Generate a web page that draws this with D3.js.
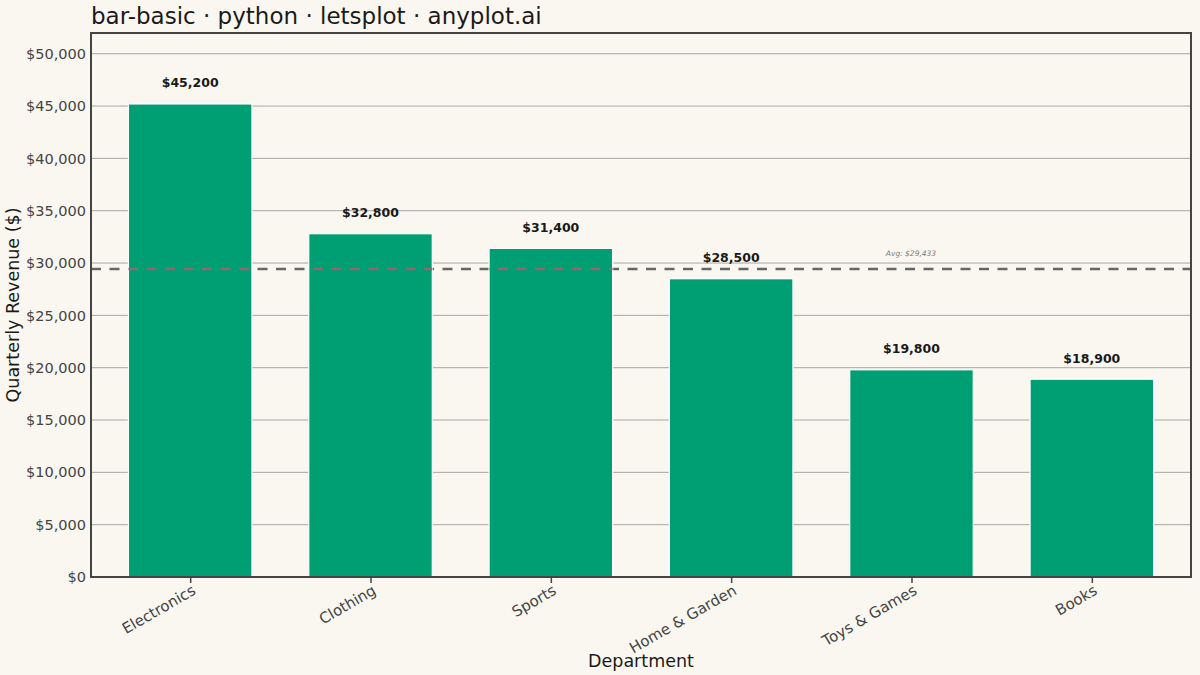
<!DOCTYPE html>
<html>
<head>
<meta charset="utf-8">
<script src="https://cdn.jsdelivr.net/npm/d3@7"></script>
<style>
  body { margin: 0; background: #FAF7F1; }
  svg { font-family: "DejaVu Sans", sans-serif; display: block; }
</style>
</head>
<body>
<svg id="chart" width="1200" height="675"></svg>
<script>
const WIDTH = 1200
const HEIGHT = 675

const departments = ['Electronics', 'Clothing', 'Sports', 'Home & Garden', 'Toys & Games', 'Books']
const revenue = [45200, 32800, 31400, 28500, 19800, 18900]
const yTicks = [0, 5000, 10000, 15000, 20000, 25000, 30000, 35000, 40000, 45000, 50000]

const padding = { left: 91, right: 9, top: 33, bottom: 98 }
const average = d3.mean(revenue)
const fmt = d3.format('$,.0f')

const svg = d3.select('#chart')

svg.append('rect')
    .attr('width', WIDTH)
    .attr('height', HEIGHT)
    .attr('fill', '#FAF7F1')

const xAxis = d3.scalePoint()
    .domain(departments)
    .range([padding.left, WIDTH - padding.right])
    .padding(0.55)

const step = xAxis.step()
const barWidth = step * 0.685

const yAxis = d3.scaleLinear()
    .domain([0, d3.max(revenue) * 1.15])
    .range([HEIGHT - padding.bottom, padding.top])

// grid lines
svg.append('g')
    .selectAll('line')
    .data(yTicks)
    .join('line')
    .attr('x1', padding.left)
    .attr('x2', WIDTH - padding.right)
    .attr('y1', d => yAxis(d))
    .attr('y2', d => yAxis(d))
    .attr('stroke', '#a9a7a3')
    .attr('stroke-width', 1)

// average line, behind the bars
const avgLine = (g, color) => g.append('line')
    .attr('x1', padding.left)
    .attr('x2', WIDTH - padding.right)
    .attr('y1', yAxis(average))
    .attr('y2', yAxis(average))
    .attr('stroke', color)
    .attr('stroke-width', 2.6)
    .attr('stroke-dasharray', '10,8.5')

avgLine(svg.append('g'), '#666666')

// bars
svg.append('g')
    .selectAll('rect')
    .data(departments)
    .join('rect')
    .attr('x', d => xAxis(d) - barWidth / 2)
    .attr('y', (d, i) => yAxis(revenue[i]))
    .attr('width', barWidth)
    .attr('height', (d, i) => yAxis(0) - yAxis(revenue[i]))
    .attr('fill', '#009E73')
    .attr('stroke', '#FFFFFF')
    .attr('stroke-width', 1.2)

// the part of the avg line that crosses a bar looks mauve in the original
const clip = svg.append('clipPath').attr('id', 'bar-clip')
clip.selectAll('rect')
    .data(departments)
    .join('rect')
    .attr('x', d => xAxis(d) - barWidth / 2)
    .attr('y', (d, i) => yAxis(revenue[i]))
    .attr('width', barWidth)
    .attr('height', (d, i) => yAxis(0) - yAxis(revenue[i]))
avgLine(svg.append('g').attr('clip-path', 'url(#bar-clip)'), '#8c6a6e')

svg.append('text')
    .text('Avg: ' + fmt(average))
    .attr('x', 911)
    .attr('y', yAxis(average) - 13)
    .attr('text-anchor', 'middle')
    .attr('font-size', 7.5)
    .attr('font-style', 'italic')
    .attr('fill', '#777')

// value labels
svg.append('g')
    .selectAll('text')
    .data(departments)
    .join('text')
    .text((d, i) => fmt(revenue[i]))
    .attr('x', d => xAxis(d))
    .attr('y', (d, i) => yAxis(revenue[i] + 2000))
    .attr('dy', '0.35em')
    .attr('text-anchor', 'middle')
    .attr('font-size', 12.5)
    .attr('font-weight', 'bold')
    .attr('fill', '#1a1a1a')

// panel border
svg.append('rect')
    .attr('x', padding.left)
    .attr('y', padding.top)
    .attr('width', WIDTH - padding.left - padding.right)
    .attr('height', HEIGHT - padding.top - padding.bottom)
    .attr('fill', 'none')
    .attr('stroke', '#444')
    .attr('stroke-width', 2)

// y axis
const yg = svg.append('g')
    .attr('transform', `translate(${padding.left},0)`)
    .call(d3.axisLeft(yAxis).tickValues(yTicks).tickFormat(fmt).tickSize(0).tickPadding(5))
yg.select('.domain').remove()
yg.selectAll('text')
    .attr('font-size', 14.5)
    .attr('font-family', '"DejaVu Sans", sans-serif')
    .attr('fill', '#444')

// x axis
const xg = svg.append('g')
    .attr('transform', `translate(0, ${HEIGHT - padding.bottom})`)
    .call(d3.axisBottom(xAxis).tickSize(5).tickPadding(4))
xg.select('.domain').remove()
xg.selectAll('line').attr('stroke', '#444').attr('stroke-width', 1.5).attr('transform', 'translate(0,1)')
xg.selectAll('text')
    .attr('font-size', 15)
    .attr('font-family', '"DejaVu Sans", sans-serif')
    .attr('fill', '#444')
    .style('text-anchor', 'end')
    .attr('dx', '-0.2em')
    .attr('dy', '0.55em')
    .attr('transform', 'rotate(-30)')

// axis titles
svg.append('text')
    .text('Department')
    .attr('x', padding.left + (WIDTH - padding.left - padding.right) / 2)
    .attr('y', 667)
    .attr('text-anchor', 'middle')
    .attr('font-size', 17.5)
    .attr('fill', '#1a1a1a')

svg.append('text')
    .text('Quarterly Revenue ($)')
    .attr('transform', `translate(19, ${(padding.top + HEIGHT - padding.bottom) / 2}) rotate(-90)`)
    .attr('text-anchor', 'middle')
    .attr('font-size', 17.5)
    .attr('fill', '#1a1a1a')

// title
svg.append('text')
    .text('bar-basic · python · letsplot · anyplot.ai')
    .attr('x', 91)
    .attr('y', 24)
    .attr('font-size', 23)
    .attr('fill', '#1a1a1a')
</script>
</body>
</html>
